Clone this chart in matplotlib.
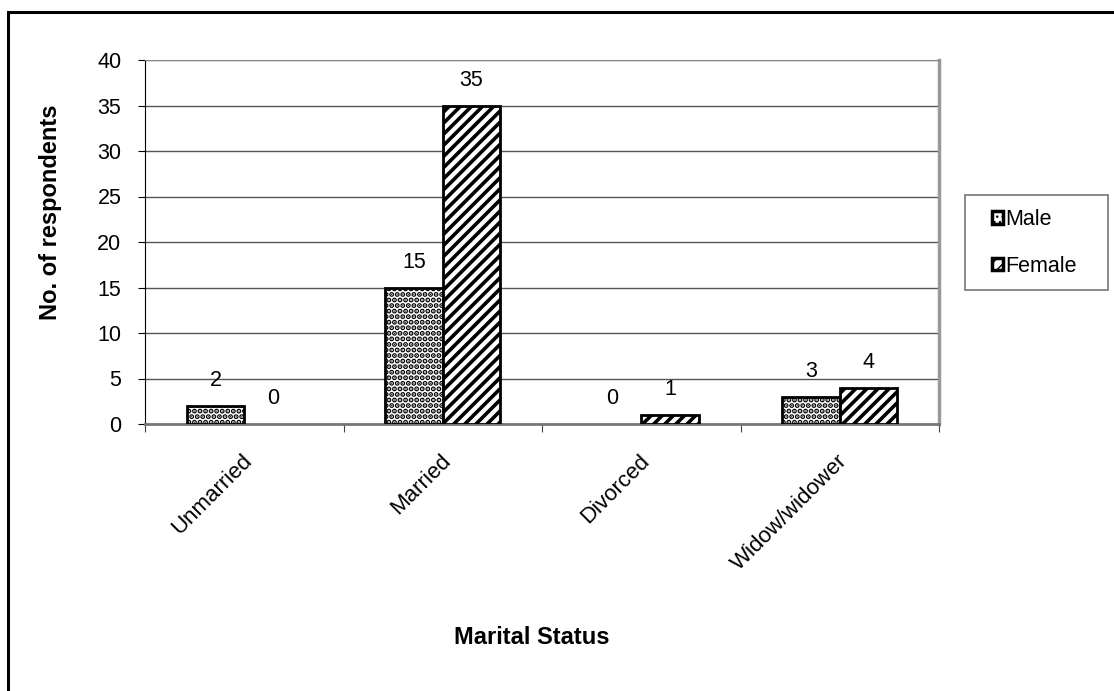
import numpy as np
import matplotlib as mpl
import matplotlib.pyplot as plt
from matplotlib.patches import Rectangle

plt.rcParams['font.family'] = ['Liberation Sans', 'DejaVu Sans']

categories = ['Unmarried', 'Married', 'Divorced', 'Widow/widower']
male = [2, 15, 0, 3]
female = [0, 35, 1, 4]
y_ticks = [0, 5, 10, 15, 20, 25, 30, 35, 40]

W, H = 1114, 691
FS = 15.5
fig = plt.figure(figsize=(W / 100, H / 100), dpi=100)

# outer frame (runs off the right and bottom edges)
fig.patches.append(Rectangle((8 / W, -0.1), 1.2, 1 - 12 / H + 0.1,
                             transform=fig.transFigure, fill=False,
                             edgecolor='black', linewidth=2.2, zorder=0))

ax = fig.add_axes([145 / W, 1 - 424 / H, 794 / W, 364 / H])

x = np.arange(len(categories))
bw = 0.29


def hatched_bars(xpos, vals, hatch, hlw, label):
    with mpl.rc_context({'hatch.linewidth': hlw}):
        bars = ax.bar(xpos, vals, bw, facecolor='white', edgecolor='black',
                      hatch=hatch, linewidth=2, zorder=3, label=label)
    for b, v in zip(bars, vals):
        if hasattr(b, 'set_hatch_linewidth'):
            b.set_hatch_linewidth(hlw)
        if v == 0:
            b.set_visible(False)
    return bars


b1 = hatched_bars(x - bw / 2, male, '...', 2.6, 'Male')
b2 = hatched_bars(x + bw / 2, female, '///', 2.6, 'Female')

for bars, vals in ((b1, male), (b2, female)):
    for bar, v in zip(bars, vals):
        ax.annotate(str(v), (bar.get_x() + bar.get_width() / 2, v),
                    xytext=(0, 18), textcoords='offset points',
                    ha='center', va='center', fontsize=FS)

ax.set_xlim(-0.5, len(categories) - 0.5)
ax.set_ylim(0, 40)
ax.set_yticks(y_ticks)
ax.yaxis.grid(True, color='#555555', linewidth=1)
ax.set_axisbelow(True)

ax.set_xticks(np.arange(len(categories) + 1) - 0.5)
ax.set_xticklabels([])
ax.tick_params(axis='x', length=6, direction='out', color='#444444')
ax.tick_params(axis='y', length=5, direction='out', labelsize=FS, pad=12)
for i, c in enumerate(categories):
    ax.annotate(c, (i, 0), xytext=(-2, -19), textcoords='offset points',
                rotation=45, rotation_mode='anchor', ha='right', va='top',
                fontsize=16)

ax.spines['left'].set_color('black')
ax.spines['bottom'].set_color('#777777')
ax.spines['top'].set_color('#888888')
ax.spines['right'].set_color('#999999')
ax.spines['right'].set_linewidth(2.5)
ax.spines['bottom'].set_linewidth(2)

ax.set_ylabel('No. of respondents', fontsize=17, fontweight='bold')
ax.yaxis.set_label_coords((62 - 145) / 794, (424 - 212) / 364)
fig.text(532 / W, 1 - 638 / H, 'Marital Status', fontsize=17,
         fontweight='bold', ha='center', va='center')

# legend box drawn separately so the padding can differ per side
fig.patches.append(Rectangle((965 / W, 1 - 290 / H), 143 / W, 95 / H,
                             transform=fig.transFigure, fill=False,
                             edgecolor='#777777', linewidth=1.2))
leg = fig.legend(handles=[b1, b2], loc='center left',
                 bbox_to_anchor=(992 / W, 1 - 243 / H), frameon=False,
                 fontsize=15.5, handlelength=0.5, handleheight=0.5,
                 handletextpad=0.12, labelspacing=1.2, borderpad=0,
                 borderaxespad=0)
for h in leg.legend_handles:
    h.set_linewidth(2.5)
    h.set_visible(True)

fig.savefig('out.png', dpi=100)
